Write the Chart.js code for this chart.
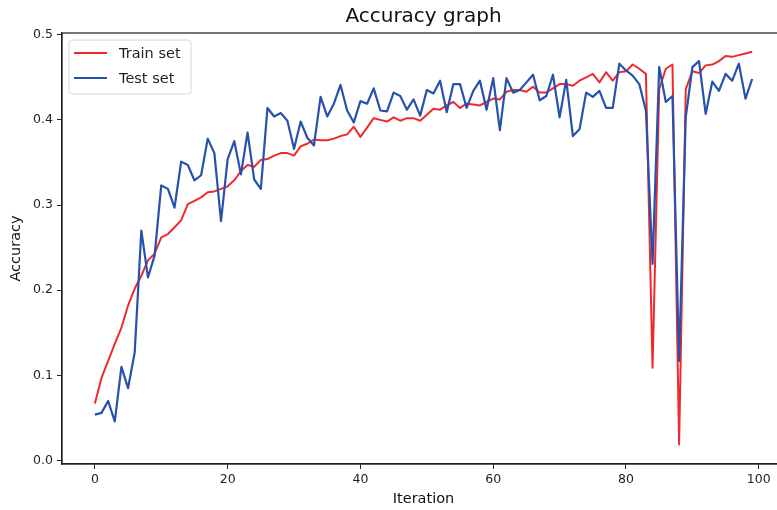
<!DOCTYPE html>
<html>
<head>
<meta charset="utf-8">
<title>Accuracy graph</title>
<script src="https://cdn.jsdelivr.net/npm/chart.js@4.4.1/dist/chart.umd.min.js"></script>
<style>
  html, body { margin: 0; padding: 0; background: #ffffff; overflow: hidden; }
  canvas { display: block; }
</style>
</head>
<body>
<canvas id="acc" width="842" height="510" style="width:842px;height:510px"></canvas>
<script>
// Iteration index (x axis)
const iterations = [
  0, 1, 2, 3, 4, 5, 6, 7, 8, 9, 10, 11, 12, 13, 14, 15, 16, 17, 18, 19,
  20, 21, 22, 23, 24, 25, 26, 27, 28, 29, 30, 31, 32, 33, 34, 35, 36, 37, 38, 39,
  40, 41, 42, 43, 44, 45, 46, 47, 48, 49, 50, 51, 52, 53, 54, 55, 56, 57, 58, 59,
  60, 61, 62, 63, 64, 65, 66, 67, 68, 69, 70, 71, 72, 73, 74, 75, 76, 77, 78, 79,
  80, 81, 82, 83, 84, 85, 86, 87, 88, 89, 90, 91, 92, 93, 94, 95, 96, 97, 98, 99
];

// Accuracy on the training set per iteration
const trainAcc = [
  0.067, 0.097, 0.117, 0.137, 0.156, 0.182, 0.202, 0.217, 0.235, 0.243,
  0.262, 0.266, 0.274, 0.282, 0.301, 0.305, 0.309, 0.315, 0.316, 0.319,
  0.322, 0.329, 0.340, 0.347, 0.345, 0.353, 0.354, 0.358, 0.361, 0.361,
  0.358, 0.369, 0.372, 0.377, 0.376, 0.376, 0.378, 0.381, 0.383, 0.392,
  0.380, 0.391, 0.402, 0.400, 0.398, 0.403, 0.399, 0.402, 0.402, 0.399,
  0.406, 0.413, 0.412, 0.417, 0.421, 0.414, 0.419, 0.418, 0.417, 0.421,
  0.425, 0.424, 0.433, 0.435, 0.435, 0.433, 0.439, 0.432, 0.432, 0.437,
  0.442, 0.442, 0.440, 0.446, 0.450, 0.454, 0.444, 0.456, 0.446, 0.456,
  0.457, 0.465, 0.460, 0.454, 0.109, 0.436, 0.460, 0.465, 0.019, 0.436,
  0.457, 0.455, 0.464, 0.465, 0.469, 0.475, 0.474, 0.476, 0.478, 0.480
];

// Accuracy on the test set per iteration
const testAcc = [
  0.054, 0.056, 0.070, 0.046, 0.110, 0.085, 0.127, 0.270, 0.215, 0.241,
  0.323, 0.319, 0.297, 0.351, 0.347, 0.329, 0.335, 0.378, 0.361, 0.281,
  0.354, 0.375, 0.336, 0.385, 0.330, 0.319, 0.414, 0.404, 0.408, 0.399,
  0.366, 0.398, 0.379, 0.370, 0.427, 0.404, 0.419, 0.441, 0.411, 0.397,
  0.422, 0.419, 0.437, 0.411, 0.410, 0.432, 0.428, 0.412, 0.424, 0.405,
  0.435, 0.431, 0.446, 0.409, 0.442, 0.442, 0.414, 0.434, 0.446, 0.412,
  0.449, 0.388, 0.449, 0.432, 0.435, 0.444, 0.453, 0.423, 0.428, 0.453,
  0.403, 0.447, 0.381, 0.389, 0.432, 0.427, 0.434, 0.414, 0.414, 0.466,
  0.458, 0.452, 0.442, 0.411, 0.231, 0.462, 0.421, 0.428, 0.117, 0.403,
  0.462, 0.469, 0.407, 0.445, 0.434, 0.454, 0.446, 0.466, 0.425, 0.448
];

// Axis tick values
const xTicks = [0, 20, 40, 60, 80, 100];
const yTicks = [0.0, 0.1, 0.2, 0.3, 0.4, 0.5];

const FONT = "'DejaVu Sans', 'Liberation Sans', sans-serif";
const INK = '#1e1e1e';

const toPoints = (ys) => ys.map((y, i) => ({ x: iterations[i], y: y }));

// Center the title over the plotting area rather than the whole canvas
const titleOverAreaPlugin = {
  id: 'titleOverArea',
  afterLayout(chart) {
    const tb = chart.titleBlock;
    if (tb) {
      tb.left = chart.chartArea.left;
      tb.right = chart.chartArea.right;
    }
  }
};

// Frame around the plotting area (all four sides)
const framePlugin = {
  id: 'frame',
  afterDatasetsDraw(chart) {
    const { ctx, chartArea: a } = chart;
    ctx.save();
    ctx.strokeStyle = INK;
    ctx.lineWidth = 1.2;
    ctx.strokeRect(a.left, a.top, a.right - a.left, a.bottom - a.top);
    ctx.restore();
  }
};

// Boxed legend in the upper-left corner of the plotting area
const boxLegendPlugin = {
  id: 'boxLegend',
  afterDraw(chart) {
    const { ctx, chartArea: a } = chart;
    const x0 = a.left + 7, y0 = a.top + 7, w = 122, h = 54, r = 3;
    ctx.save();
    ctx.beginPath();
    ctx.moveTo(x0 + r, y0);
    ctx.arcTo(x0 + w, y0, x0 + w, y0 + h, r);
    ctx.arcTo(x0 + w, y0 + h, x0, y0 + h, r);
    ctx.arcTo(x0, y0 + h, x0, y0, r);
    ctx.arcTo(x0, y0, x0 + w, y0, r);
    ctx.closePath();
    ctx.fillStyle = 'rgba(255,255,255,0.85)';
    ctx.fill();
    ctx.strokeStyle = '#d6d6d6';
    ctx.lineWidth = 1;
    ctx.stroke();

    ctx.font = '14.5px ' + FONT;
    ctx.textBaseline = 'middle';
    ctx.textAlign = 'left';
    chart.data.datasets.forEach((ds, i) => {
      const yy = y0 + 13 + i * 25;
      ctx.beginPath();
      ctx.moveTo(x0 + 5, yy);
      ctx.lineTo(x0 + 38, yy);
      ctx.strokeStyle = ds.borderColor;
      ctx.lineWidth = 2;
      ctx.stroke();
      ctx.fillStyle = INK;
      ctx.fillText(ds.label, x0 + 50, yy + 1);
    });
    ctx.restore();
  }
};

new Chart(document.getElementById('acc'), {
  type: 'line',
  data: {
    datasets: [
      {
        label: 'Train set',
        data: toPoints(trainAcc),
        borderColor: '#ee2a2c',
        borderWidth: 2,
        pointRadius: 0,
        tension: 0,
        borderJoinStyle: 'round',
        fill: false,
        order: 1
      },
      {
        label: 'Test set',
        data: toPoints(testAcc),
        borderColor: '#2651ad',
        borderWidth: 2.2,
        pointRadius: 0,
        tension: 0,
        borderJoinStyle: 'round',
        fill: false,
        order: 0
      }
    ]
  },
  options: {
    responsive: false,
    animation: false,
    devicePixelRatio: 1,
    layout: { padding: { left: 0, right: 57, top: 0, bottom: 0 } },
    plugins: {
      legend: { display: false },
      tooltip: { enabled: false },
      title: {
        display: true,
        text: 'Accuracy graph',
        color: '#111',
        font: { family: FONT, size: 20, weight: 'normal' },
        padding: { top: 5, bottom: 4 }
      }
    },
    scales: {
      x: {
        type: 'linear',
        min: -4.95,
        max: 103.95,
        afterFit(scale) { scale.height = 46; },
        afterBuildTicks(scale) { scale.ticks = xTicks.map(v => ({ value: v })); },
        grid: { drawOnChartArea: false, drawTicks: true, tickLength: 5, tickColor: INK, tickWidth: 1 },
        border: { display: true, color: INK, width: 1.2 },
        ticks: {
          color: INK,
          padding: 3,
          maxRotation: 0,
          font: { family: FONT, size: 12.5 },
          callback: (v) => String(v)
        },
        title: {
          display: true,
          text: 'Iteration',
          color: '#111',
          font: { family: FONT, size: 14.5 },
          padding: { top: 0, bottom: 2 }
        }
      },
      y: {
        type: 'linear',
        min: -0.004,
        max: 0.502,
        afterFit(scale) { scale.width = 62; },
        afterBuildTicks(scale) { scale.ticks = yTicks.map(v => ({ value: v })); },
        grid: { drawOnChartArea: false, drawTicks: true, tickLength: 5, tickColor: INK, tickWidth: 1 },
        border: { display: true, color: INK, width: 1.2 },
        ticks: {
          color: INK,
          padding: 4,
          font: { family: FONT, size: 12.5 },
          callback: (v) => Number(v).toFixed(1)
        },
        title: {
          display: true,
          text: 'Accuracy',
          color: '#111',
          font: { family: FONT, size: 14.5 },
          padding: { top: 8, bottom: 0 }
        }
      }
    }
  },
  plugins: [titleOverAreaPlugin, framePlugin, boxLegendPlugin]
});
</script>
</body>
</html>
